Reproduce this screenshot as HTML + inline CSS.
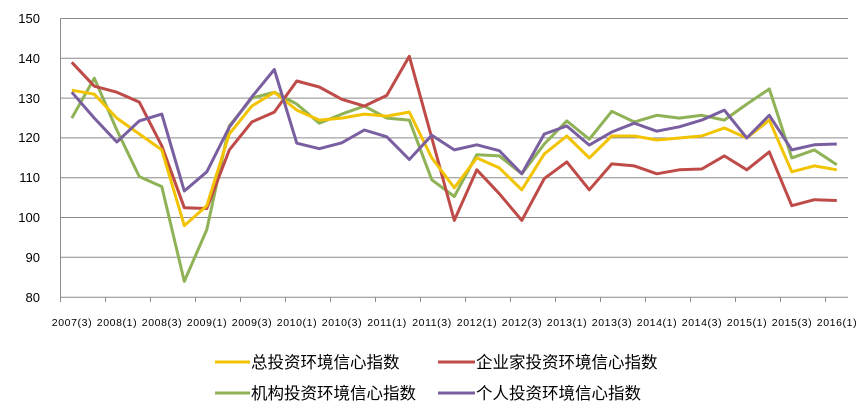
<!DOCTYPE html>
<html><head><meta charset="utf-8"><style>
body{margin:0;background:#fff;}
svg{display:block;font-family:"Liberation Sans","Noto Sans CJK SC",sans-serif;}
</style></head><body>
<svg id="c" width="868" height="415" viewBox="0 0 868 415">
<g stroke="#8c8c8c" stroke-width="1">
<line x1="60.5" y1="18.5" x2="848" y2="18.5"/>
<line x1="60.5" y1="58.3" x2="848" y2="58.3"/>
<line x1="60.5" y1="98.1" x2="848" y2="98.1"/>
<line x1="60.5" y1="137.9" x2="848" y2="137.9"/>
<line x1="60.5" y1="177.7" x2="848" y2="177.7"/>
<line x1="60.5" y1="217.5" x2="848" y2="217.5"/>
<line x1="60.5" y1="257.3" x2="848" y2="257.3"/>
<line x1="60.5" y1="297.3" x2="848" y2="297.3"/>
<line x1="60.5" y1="18.5" x2="60.5" y2="297.3"/>
</g>
<g id="ticks" stroke="#8c8c8c"></g>
<g font-size="13" fill="#000" text-anchor="end">
<text x="40" y="23">150</text><text x="40" y="63">140</text><text x="40" y="103">130</text><text x="40" y="142">120</text><text x="40" y="182">110</text><text x="40" y="222">100</text><text x="40" y="262">90</text><text x="40" y="302">80</text>
</g>
<g font-size="10.5" fill="#000" text-anchor="middle" letter-spacing="0.6">
<text x="72" y="326">2007(3)</text><text x="117" y="326">2008(1)</text><text x="162" y="326">2008(3)</text><text x="207" y="326">2009(1)</text><text x="252" y="326">2009(3)</text><text x="297" y="326">2010(1)</text><text x="342" y="326">2010(3)</text><text x="387" y="326">2011(1)</text><text x="432" y="326">2011(3)</text><text x="477" y="326">2012(1)</text><text x="522" y="326">2012(3)</text><text x="567" y="326">2013(1)</text><text x="612" y="326">2013(3)</text><text x="657" y="326">2014(1)</text><text x="702" y="326">2014(3)</text><text x="747" y="326">2015(1)</text><text x="792" y="326">2015(3)</text><text x="837" y="326">2016(1)</text>
</g>
<g id="lines" fill="none" stroke-width="3" stroke-linejoin="round"></g>
<g stroke-width="3">
<line x1="215" y1="362" x2="250" y2="362" stroke="#f2c300"/>
<line x1="438" y1="362" x2="475" y2="362" stroke="#be4b48"/>
<line x1="215" y1="393" x2="250" y2="393" stroke="#8fb257"/>
<line x1="438" y1="393" x2="475" y2="393" stroke="#7a5fa0"/>
</g>
<g font-size="16.5" fill="#000">
<text x="251" y="368">总投资环境信心指数</text>
<text x="476" y="368">企业家投资环境信心指数</text>
<text x="251" y="399">机构投资环境信心指数</text>
<text x="476" y="399">个人投资环境信心指数</text>
</g>
</svg>
<script>
var ns="http://www.w3.org/2000/svg";
var t=document.getElementById("ticks");
for(var i=0;i<=17;i++){var x=60.5+45*i;var l=document.createElementNS(ns,"line");l.setAttribute("x1",x);l.setAttribute("x2",x);l.setAttribute("y1",297);l.setAttribute("y2",302);t.appendChild(l);}
var S=[
["#8fb257",[125,135,122,110.3,107.8,84,97,123,130,131.5,128.5,123.7,126,128,125,124.5,109.5,105.3,115.8,115.5,111,118.5,124.3,119.7,126.7,124,125.7,125,125.7,124.5,128.5,132.3,115,117,113.3]],
["#be4b48",[139,133,131.5,129,118,102.5,102.3,117,124,126.5,134.3,132.8,129.7,128,130.7,140.5,120,99.3,112,106,99.3,109.8,114,107,113.5,113,111,112,112.2,115.5,112,116.5,103,104.5,104.3]],
["#f2c300",[132,131,125,121,117,98,103,121,128,131.5,127,124.5,125,126,125.5,126.5,115,107.5,115,112.5,107,116,120.5,115,120.5,120.5,119.5,120,120.5,122.5,120,124.5,111.5,113,112]],
["#7a5fa0",[131.5,125,119,124.3,126,106.7,111.5,122.7,130.3,137.2,118.7,117.3,118.8,122,120.3,114.6,120.7,117,118.3,116.8,111,121,123,118.2,121.5,123.7,121.7,122.8,124.5,127,120,125.7,117,118.3,118.5]]];
var g=document.getElementById("lines");
S.forEach(function(s){var p=s[1].map(function(v,i){return (71.75+22.5*i).toFixed(1)+","+(297.3-(v-80)*3.983).toFixed(1);}).join(" ");
var e=document.createElementNS(ns,"polyline");e.setAttribute("points",p);e.setAttribute("stroke",s[0]);g.appendChild(e);});
</script>
</body></html>
